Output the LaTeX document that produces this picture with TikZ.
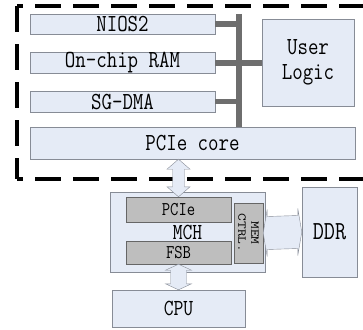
\documentclass[tikz,border=0pt]{standalone}
\usepackage{fontspec}
\usetikzlibrary{positioning, calc}
\definecolor{boxblue}{RGB}{229,235,246}
\definecolor{boxline}{RGB}{135,140,150}
\definecolor{chipgray}{RGB}{190,190,190}
\definecolor{busgray}{RGB}{110,110,110}
% hollow double block arrows: tip, tip, half shaft, half head, head length
\newcommand{\varrow}[5]{\draw[arrowbox] (#1) -- ($(#1)+(#4,#5)$) -- ($(#1)+(#3,#5)$) -- ($(#2)+(#3,-#5)$) -- ($(#2)+(#4,-#5)$) -- (#2) -- ($(#2)+(-#4,-#5)$) -- ($(#2)+(-#3,-#5)$) -- ($(#1)+(-#3,#5)$) -- ($(#1)+(-#4,#5)$) -- cycle;}
\newcommand{\harrow}[5]{\draw[arrowbox] (#1) -- ($(#1)+(#5,-#4)$) -- ($(#1)+(#5,-#3)$) -- ($(#2)+(-#5,-#3)$) -- ($(#2)+(-#5,-#4)$) -- (#2) -- ($(#2)+(-#5,#4)$) -- ($(#2)+(-#5,#3)$) -- ($(#1)+(#5,#3)$) -- ($(#1)+(#5,#4)$) -- cycle;}
\tikzset{x=1pt, y=-1pt, % one unit per pixel, y downwards
blk/.style={draw=boxline, fill=boxblue, inner sep=0pt}, % light blue blocks
chip/.style={draw=gray!80!black, fill=chipgray, inner sep=0pt}, % grey parts inside the MCH
lbl/.style={ % narrow monospaced labels
inner sep=0pt, xscale=0.83, transform shape, align=center,
font=\ttfamily\fontsize{24.5}{17}\selectfont},
bus/.style={draw=busgray, line width=5.5pt},
arrowbox/.style={draw=boxline, fill=boxblue, line join=miter},
frame/.style={line width=3.2pt, dash pattern=on 26pt off 12pt}}
\begin{document}
\begin{tikzpicture}

    \useasboundingbox (0,0) rectangle (363,329);
    \clip (0,0) rectangle (363,329);

    \coordinate (tl) at (17,6);
    \coordinate (bl) at (17,179);
    \draw[frame] (tl) -- (bl);
    \draw[frame, dash phase=20pt] (tl) -- (tl -| 420,0);
    \draw[frame, dash phase=20pt] (bl) -- (bl -| 420,0);

    \node[blk, minimum width=185, minimum height=20] (nios) at (122.5,24) {};
    \node[blk, minimum width=185, minimum height=21] (ram) at (122.5,63) {};
    \node[blk, minimum width=185, minimum height=21] (dma) at (122.5,101.5) {};
    \node[blk, minimum width=325, minimum height=32] (core) at (192.5,143) {};
    \node[blk, minimum width=92, minimum height=87] (user) at (308,62.5) {};
    \node[lbl] (niostxt) at (nios) {NIOS2};
    \node[lbl] (ramtxt) at (ram) {On-chip RAM};
    \node[lbl] (dmatxt) at (dma) {SG-DMA};
    \node[lbl] (coretxt) at (core) {PCIe core};
    \node[lbl] (usertxt) at (user) {User\\[8pt]Logic};

    \coordinate (bt) at (239,14);
    \draw[bus] (bt) -- (bt |- core.north);
    \draw[bus] (nios.east) -- (nios.east -| bt);
    \draw[bus] (ram.east) -- (ram.east -| user.west);
    \draw[bus] (dma.east) -- (dma.east -| bt);

    \node[blk, minimum width=155, minimum height=80] (mch) at (187.5,232) {};
    \node[chip, minimum width=105, minimum height=25] (pcie) at (178.5,209.5) {};
    \node[chip, minimum width=105, minimum height=23] (fsb) at (178.5,252.5) {};
    \node[chip, minimum width=29, minimum height=60] (mem) at (248.5,233) {};
    \node[blk, minimum width=55, minimum height=90] (ddr) at (329.5,232) {};
    \node[blk, minimum width=133, minimum height=37] (cpu) at (178.5,308.5) {};
    \node[lbl, font=\ttfamily\fontsize{23}{23}\selectfont] (mchtxt) at (mch) {MCH};
    \node[lbl, font=\ttfamily\fontsize{19.5}{20}\selectfont] (pcietxt) at (pcie) {PCIe};
    \node[lbl, font=\ttfamily\fontsize{19.5}{20}\selectfont] (fsbtxt) at (fsb) {FSB};
    \node[inner sep=0pt, align=center, rotate=-90, xscale=1.25, transform shape,
        font=\ttfamily\fontsize{12}{13}\selectfont] (memtxt) at (mem) {MEM\\CTRL.};
    \node[lbl, font=\ttfamily\fontsize{26}{26}\selectfont] (ddrtxt) at (ddr) {DDR};
    \node[lbl, font=\ttfamily\fontsize{23}{23}\selectfont] (cputxt) at (cpu) {CPU};

    \varrow{pcie.north |- core.south}{pcie.north}{6}{11.5}{10}
    \varrow{fsb.south}{cpu.north}{8}{13}{6}
    \harrow{mem.east}{ddr.west}{16.5}{23.5}{4}

\end{tikzpicture}
\end{document}
